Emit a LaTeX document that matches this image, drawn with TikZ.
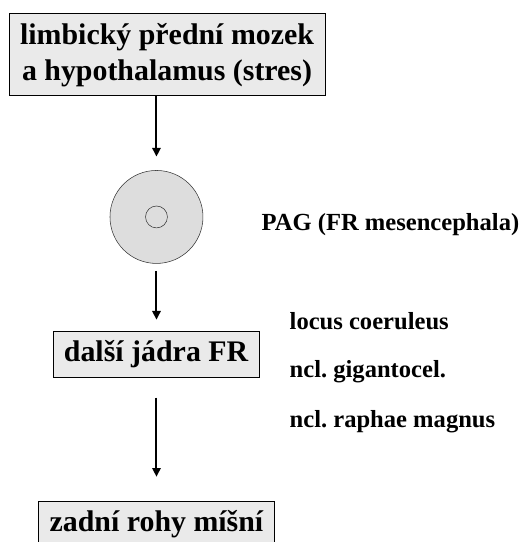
\documentclass[tikz,border=0pt]{standalone}
\usepackage{fontspec}
\setmainfont{Liberation Serif}
\usetikzlibrary{arrows.meta}
\definecolor{boxgray}{HTML}{EAEAEA}
\definecolor{discgray}{HTML}{DDDDDD}
\frenchspacing

\begin{document}
\begin{tikzpicture}[
  >={Triangle[width=2.2mm,length=2.3mm]},
  font=\bfseries\fontsize{22.5}{27}\selectfont,
  box/.style={draw,line width=.7pt,fill=boxgray,inner xsep=2.9mm,inner ysep=1.5mm},
  side/.style={anchor=base west,font=\bfseries\fontsize{18.5}{22}\selectfont},
  flow/.style={->,line width=1.5pt}
]
  \clip (0,0) rectangle (13.84,14.34);

  % Top: source of the stress signal.
  \node[box,align=center,minimum width=8.31cm,minimum height=2.17cm] (limbic) at (4.42,12.89)
    {limbický přední mozek\\a hypothalamus (stres)};

  % PAG disc.
  \node[circle,draw=black!80,fill=discgray,minimum size=2.46cm] (pag) at (4.14,8.60) {};
  \node[circle,draw=black!80,fill=discgray,minimum size=.58cm] (pagcore) at (pag) {};
  \node[side] (paglabel) at (6.80,8.25) {PAG (FR mesencephala)};

  % Further FR nuclei.
  \node[box,minimum width=5.40cm,minimum height=1.22cm] (jadra) at (4.13,4.97) {další jádra FR};
  \node[side] (locus) at (7.54,5.61) {locus coeruleus};
  \node[side] (giganto) at (7.54,4.34) {ncl. gigantocel.};
  \node[side] (raphe) at (7.54,3.04) {ncl. raphae magnus};

  % Spinal cord.
  \node[box,minimum width=6.22cm,minimum height=1.22cm] (rohy) at (4.14,0.475) {zadní rohy míšní};

  \draw[flow,shorten >=.36cm] (limbic.south -| pag) -- (pag.north);
  \draw[flow,shorten <=.19cm,shorten >=.29cm] (pag.south) -- (jadra.north -| pag);
  \draw[flow,shorten <=.53cm,shorten >=.63cm] (jadra.south -| pag) -- (rohy.north -| pag);
\end{tikzpicture}
\end{document}
